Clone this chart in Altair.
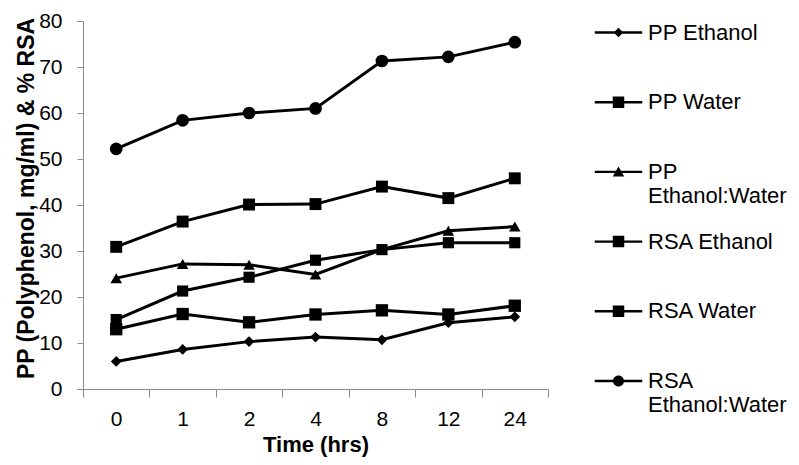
import altair as alt
import pandas as pd

times = ["0", "1", "2", "4", "8", "12", "24"]
series_names = ["PP Ethanol", "PP Water", "PP Ethanol:Water",
                "RSA Ethanol", "RSA Water", "RSA Ethanol:Water"]

pp_ethanol = [6.0, 8.6, 10.3, 11.3, 10.7, 14.4, 15.7]
pp_water = [15.1, 21.3, 24.3, 28.0, 30.3, 31.8, 31.8]
pp_ethanol_water = [24.1, 27.2, 27.0, 24.9, 30.3, 34.4, 35.3]
rsa_ethanol = [30.9, 36.4, 40.1, 40.2, 44.0, 41.5, 45.8]
rsa_water = [13.0, 16.3, 14.5, 16.2, 17.1, 16.2, 18.1]
rsa_ethanol_water = [52.2, 58.4, 60.0, 61.0, 71.3, 72.2, 75.4]

all_values = [pp_ethanol, pp_water, pp_ethanol_water,
              rsa_ethanol, rsa_water, rsa_ethanol_water]

rows = []
for name, vals in zip(series_names, all_values):
    for t, v in zip(times, vals):
        rows.append({"time": t, "value": v, "series": name})
df = pd.DataFrame(rows)

chart_shapes = ["diamond", "square", "triangle-up", "square", "square", "circle"]
chart_sizes = [115, 161, 161, 161, 161, 161]

# legend glyphs: a short line with the marker on it (filled paths, unit = 5px)
LINE = "M-4.75,-0.24H4.75V0.24H-4.75Z"
SQUARE = "M-1.15,-1.15H1.15V1.15H-1.15Z"
legend_shapes = [
    LINE + "M0,-0.95L0.95,0L0,0.95L-0.95,0Z",
    LINE + SQUARE,
    LINE + "M0,-1.1L1.15,0.9H-1.15Z",
    LINE + SQUARE,
    LINE + SQUARE,
    LINE + "M-1.1,0A1.1,1.1,0,1,1,1.1,0A1.1,1.1,0,1,1,-1.1,0Z",
]

FONT = "Liberation Sans"
AXIS_GRAY = "#8c8c8c"

x_enc = alt.X(
    "time:N", sort=times,
    scale=alt.Scale(type="band", paddingInner=0, paddingOuter=0),
    axis=alt.Axis(
        title="Time (hrs)", labelAngle=0, tickBand="extent", grid=False,
        domainColor=AXIS_GRAY, tickColor=AXIS_GRAY, tickSize=8,
        labelFontSize=21, labelPadding=11, labelColor="black", labelFont=FONT,
        titleFontSize=22, titleFontWeight="bold", titleFont=FONT, titleColor="black",
        titleBaseline="alphabetic", titleY=62,
    ),
)
y_enc = alt.Y(
    "value:Q",
    scale=alt.Scale(domain=[0, 80], nice=False),
    axis=alt.Axis(
        title="PP (Polyphenol, mg/ml) & % RSA",
        values=[0, 10, 20, 30, 40, 50, 60, 70, 80], grid=False,
        domainColor=AXIS_GRAY, tickColor=AXIS_GRAY, tickSize=6,
        labelFontSize=21, labelPadding=15, labelColor="black", labelFont=FONT,
        titleFontSize=23, titleFontWeight="bold", titleFont=FONT, titleColor="black",
        titleAngle=270, titleAlign="center", titleBaseline="alphabetic",
        titleX=-50, titleY=177,
    ),
)

base = alt.Chart(df).encode(x=x_enc, y=y_enc, detail="series:N")

lines = base.mark_line(color="black", strokeWidth=3)

points = base.mark_point(filled=True, color="black", opacity=1).encode(
    shape=alt.Shape("series:N", scale=alt.Scale(domain=series_names, range=chart_shapes), legend=None),
    size=alt.Size("series:N", scale=alt.Scale(domain=series_names, range=chart_sizes), legend=None),
)

label_expr = ("datum.label == 'PP Ethanol:Water' ? ['PP', 'Ethanol:Water'] : "
              "datum.label == 'RSA Ethanol:Water' ? ['RSA', 'Ethanol:Water'] : datum.label")

legend_layer = base.mark_point(filled=True, color="black", opacity=0).encode(
    shape=alt.Shape(
        "series:N",
        scale=alt.Scale(domain=series_names, range=legend_shapes),
        legend=alt.Legend(
            title=None, orient="none", legendX=524.5, legendY=0.5, padding=0,
            symbolSize=100, symbolStrokeWidth=0, symbolFillColor="black",
            symbolOpacity=1,
            labelFontSize=22, labelFont=FONT, labelColor="black", labelLimit=300,
            labelOffset=18.5, labelBaseline="middle", labelExpr=label_expr,
            rowPadding=23.7, gridAlign="all",
        ),
    )
)

chart = (
    alt.layer(lines, points, legend_layer)
    .resolve_scale(shape="independent")
    .properties(
        width=465, height=368,
        padding={"left": 75, "top": 13, "right": 243, "bottom": 68},
        autosize=alt.AutoSizeParams(type="none"),
    )
    .configure(font=FONT)
    .configure_view(strokeWidth=0)
)

chart.save("out.html", embed_options={"renderer": "svg", "actions": False})
